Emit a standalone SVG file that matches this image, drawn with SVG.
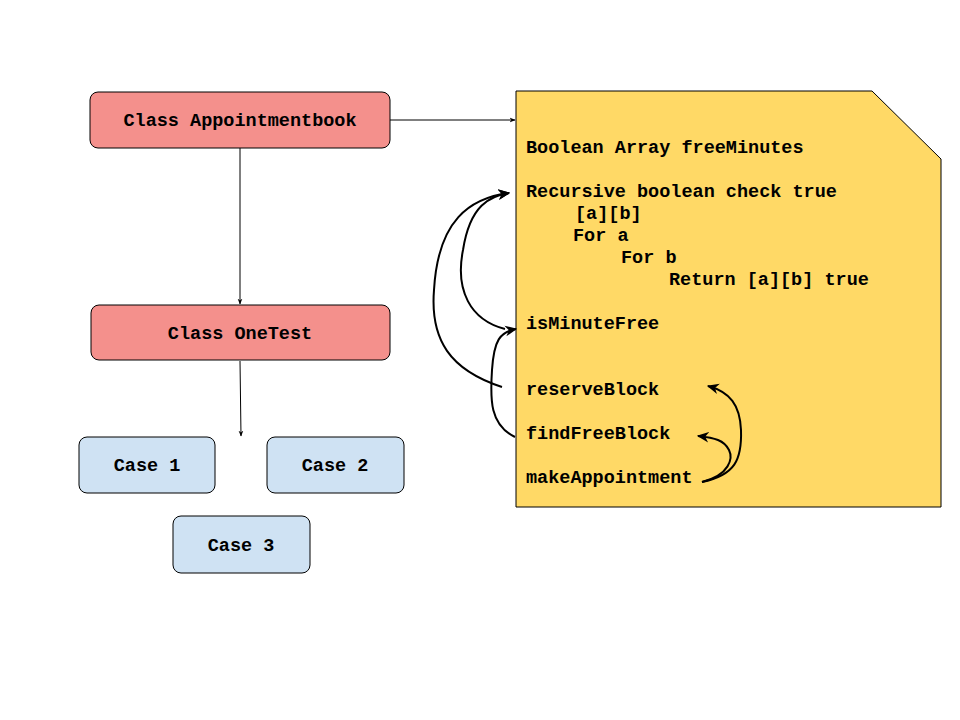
<svg xmlns="http://www.w3.org/2000/svg" width="960" height="720" viewBox="0 0 960 720">
<style>
.t{font-family:"Liberation Mono","Courier New",monospace;font-weight:bold;font-size:18.5px;fill:#000}
.c{text-anchor:middle;dominant-baseline:central}
.red{fill:#F4908C;stroke:#000;stroke-width:1}
.blue{fill:#CFE2F3;stroke:#000;stroke-width:1}
.ln{fill:none;stroke:#000;stroke-width:1}
.cv{fill:none;stroke:#000;stroke-width:2}
</style>
<defs>
<marker id="a1" viewBox="0 0 10 10" refX="9" refY="5" markerWidth="6" markerHeight="6" markerUnits="userSpaceOnUse" orient="auto"><path d="M0,1 L10,5 L0,9 L3,5 Z" fill="#000"/></marker>
<marker id="a2" viewBox="0 0 10 10" refX="9" refY="5" markerWidth="12" markerHeight="12" markerUnits="userSpaceOnUse" orient="auto"><path d="M0,0.5 L10,5 L0,9.5 L3,5 Z" fill="#000"/></marker>
</defs>
<rect width="960" height="720" fill="#fff"/>
<g id="note">
<path d="M516,91 H872 L941,159 V507 H516 Z" fill="#FFD966" stroke="#000" stroke-width="1"/>
<text class="t" x="526" y="153">Boolean Array freeMinutes</text>
<text class="t" x="526" y="197">Recursive boolean check true</text>
<text class="t" x="575" y="219">[a][b]</text>
<text class="t" x="573" y="241">For a</text>
<text class="t" x="621" y="263">For b</text>
<text class="t" x="669" y="285">Return [a][b] true</text>
<text class="t" x="526" y="329">isMinuteFree</text>
<text class="t" x="526" y="395">reserveBlock</text>
<text class="t" x="526" y="439">findFreeBlock</text>
<text class="t" x="526" y="483">makeAppointment</text>
</g>
<g id="appointmentbook">
<rect class="red" x="90" y="92" width="300" height="56" rx="8"/>
<text class="t c" x="240" y="121">Class Appointmentbook</text>
</g>
<g id="onetest">
<rect class="red" x="91" y="305" width="299" height="55" rx="8"/>
<text class="t c" x="240" y="334">Class OneTest</text>
</g>
<g id="case1">
<rect class="blue" x="79" y="437" width="136" height="56" rx="8"/>
<text class="t c" x="147" y="466">Case 1</text>
</g>
<g id="case2">
<rect class="blue" x="267" y="437" width="137" height="56" rx="8"/>
<text class="t c" x="335" y="466">Case 2</text>
</g>
<g id="case3">
<rect class="blue" x="173" y="516" width="137" height="57" rx="8"/>
<text class="t c" x="241" y="546">Case 3</text>
</g>
<g id="connectors">
<path class="ln" d="M390,120 H515" marker-end="url(#a1)"/>
<path class="ln" d="M240,148 V304" marker-end="url(#a1)"/>
<path class="ln" d="M240,361 L241,436" marker-end="url(#a1)"/>
<path class="cv" d="M505,329 C470,320 455,290 463,250 C470,205 490,196 509,193" marker-end="url(#a2)"/>
<path class="cv" d="M502,387 C450,370 430,340 434,290 C438,220 470,198 509,193" marker-end="url(#a2)"/>
<path class="cv" d="M515,437 C490,425 490,400 492,370 C494,340 500,332 516,329" marker-end="url(#a2)"/>
<path class="cv" d="M702,482 C735,475 742,460 741,430 C740,405 730,392 708,386" marker-end="url(#a2)"/>
<path class="cv" d="M702,482 C730,475 733,458 729,450 C724,440 715,438 698,436" marker-end="url(#a2)"/>
</g>
</svg>
